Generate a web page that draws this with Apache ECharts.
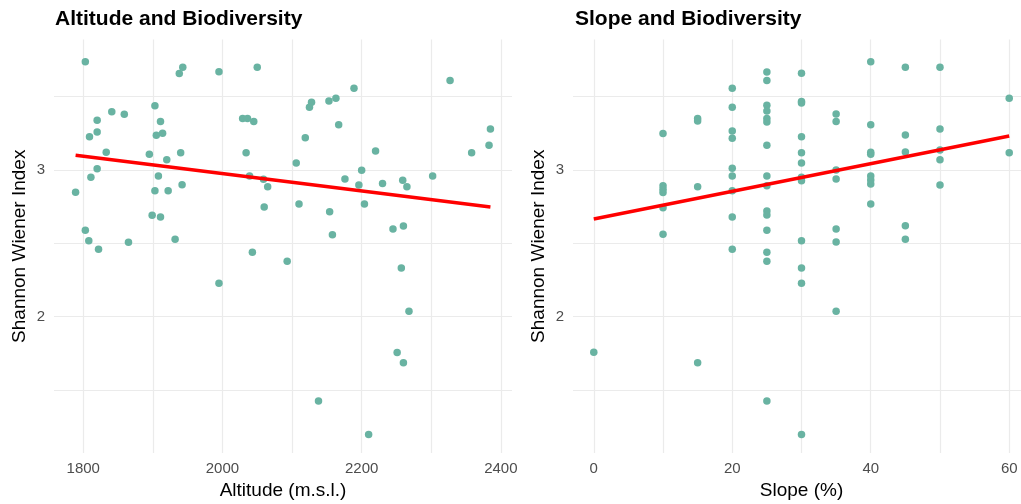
<!DOCTYPE html>
<html>
<head>
<meta charset="utf-8">
<script src="https://cdn.jsdelivr.net/npm/echarts@6/dist/echarts.min.js"></script>
<style>
  html, body { margin: 0; padding: 0; background: #fff; }
  #chart { width: 1021px; height: 504px; }
</style>
</head>
<body>
<div id="chart"></div>
<script>
// altitude panel
const altitude = [1803, 1943, 1938, 1995, 2050, 1903, 1841, 1859, 1820, 1911, 2029, 2036, 2045,
  1820, 1809, 1905, 1914, 1833, 1895, 1940, 2034, 1920, 1820, 1811, 1908, 2039, 1789, 1903,
  1922, 1942, 1899, 1911, 1803, 1808, 1865, 1932, 1822, 2043, 2327, 2189, 2128, 2125, 2153,
  2163, 2167, 2119, 2220, 2358, 2383, 2385, 2106, 2200, 2059, 2065, 2176, 2196, 2230, 2259,
  2265, 2302, 2060, 2110, 2154, 2204, 2158, 2245, 2260, 2093, 2257, 1995, 2268, 2251, 2260,
  2138, 2210];
const shannonAlt = [3.738, 3.70, 3.657, 3.67, 3.70, 3.438, 3.397, 3.38, 3.339, 3.33, 3.35, 3.35, 3.33,
  3.259, 3.227, 3.236, 3.25, 3.12, 3.107, 3.118, 3.118, 3.07, 3.009, 2.95, 2.959, 2.959, 2.848, 2.859,
  2.859, 2.90, 2.691, 2.68, 2.589, 2.518, 2.507, 2.527, 2.459, 2.439, 3.609, 3.557, 3.461, 3.427, 3.47,
  3.489, 3.309, 3.22, 3.13, 3.118, 3.168, 3.28, 3.048, 2.998, 2.937, 2.886, 2.939, 2.898, 2.907, 2.93,
  2.886, 2.959, 2.748, 2.768, 2.716, 2.768, 2.559, 2.598, 2.618, 2.378, 2.332, 2.228, 2.037, 1.755, 1.686,
  1.425, 1.196];
const altFitX = [1789, 2385];
const altFitY = [3.10, 2.748];

// slope panel
const slope = [0,
  10, 10, 10, 10, 10, 10,
  15, 15, 15, 15,
  20, 20, 20, 20, 20, 20, 20, 20, 20,
  25, 25, 25, 25, 25, 25, 25, 25, 25, 25, 25, 25, 25, 25, 25,
  30, 30, 30, 30, 30, 30, 30, 30, 30, 30, 30, 30,
  35, 35, 35, 35, 35, 35, 35,
  40, 40, 40, 40, 40, 40, 40, 40,
  45, 45, 45, 45, 45,
  50, 50, 50, 50, 50,
  60, 60];
const shannonSlope = [1.757,
  3.248, 2.893, 2.868, 2.846, 2.743, 2.562,
  3.35, 3.334, 2.886, 1.686,
  3.557, 3.427, 3.266, 3.216, 3.011, 2.959, 2.859, 2.68, 2.459,
  3.668, 3.609, 3.441, 3.402, 3.35, 3.327, 3.168, 2.959, 2.893, 2.72, 2.693, 2.589, 2.439, 2.378, 1.425,
  3.659, 3.466, 3.457, 3.227, 3.118, 3.048, 2.95, 2.927, 2.518, 2.332, 2.228, 1.196,
  3.382, 3.33, 3.0, 2.939, 2.598, 2.509, 2.037,
  3.738, 3.309, 3.12, 3.107, 2.959, 2.932, 2.905, 2.768,
  3.70, 3.239, 3.123, 2.62, 2.527,
  3.70, 3.28, 3.136, 3.07, 2.898,
  3.489, 3.118];
const slopeFitX = [0, 60];
const slopeFitY = [2.666, 3.232];

const FONT = '"Liberation Sans", Arial, Helvetica, sans-serif';
const POINT = '#69b3a2';
const GRID = '#ebebeb';

const zip = (a, b) => a.map((v, i) => [v, b[i]]);

function xAxisFor(idx, name, min, max, step, labelStep) {
  return {
    type: 'value', gridIndex: idx, name: name, nameLocation: 'middle', nameGap: 25,
    nameTextStyle: { fontFamily: FONT, fontSize: 19, color: '#000' },
    min: min, max: max, minInterval: step, maxInterval: step,
    axisLine: { show: false }, axisTick: { show: false },
    axisLabel: {
      fontFamily: FONT, fontSize: 15, color: '#4d4d4d', margin: 8,
      formatter: v => (Math.abs(v % labelStep) < 1e-6 ? String(v) : '')
    },
    splitLine: { show: true, showMinLine: false, showMaxLine: false, lineStyle: { color: GRID, width: 1.2 } }
  };
}

function yAxisFor(idx) {
  return {
    type: 'value', gridIndex: idx, name: 'Shannon Wiener Index', nameLocation: 'middle', nameGap: 25,
    nameTextStyle: { fontFamily: FONT, fontSize: 19, color: '#000' },
    min: 1.07, max: 3.89, minInterval: 0.5, maxInterval: 0.5,
    axisLine: { show: false }, axisTick: { show: false },
    axisLabel: {
      fontFamily: FONT, fontSize: 15, color: '#4d4d4d', margin: 9,
      formatter: v => (Math.abs(v % 1) < 1e-6 ? String(v) : '')
    },
    splitLine: { show: true, showMinLine: false, showMaxLine: false, lineStyle: { color: GRID, width: 1.2 } }
  };
}

const myChart = echarts.init(document.getElementById('chart'));
myChart.setOption({
  animation: false,
  backgroundColor: '#fff',
  title: [
    { text: 'Altitude and Biodiversity', left: 55, top: 8.5, padding: 0,
      textStyle: { fontFamily: FONT, fontSize: 21, fontWeight: 'bold', color: '#000' } },
    { text: 'Slope and Biodiversity', left: 575, top: 8.5, padding: 0,
      textStyle: { fontFamily: FONT, fontSize: 21, fontWeight: 'bold', color: '#000' } }
  ],
  grid: [
    { left: 54, width: 458, top: 39.4, bottom: 50.9, outerBoundsMode: 'none' },
    // right panel is cut off by the image edge in the original
    { left: 573, width: 457, top: 39.4, bottom: 50.9, outerBoundsMode: 'none' }
  ],
  xAxis: [
    xAxisFor(0, 'Altitude (m.s.l.)', 1758, 2416, 100, 200),
    xAxisFor(1, 'Slope (%)', -3, 63, 10, 20)
  ],
  yAxis: [yAxisFor(0), yAxisFor(1)],
  series: [
    { type: 'scatter', xAxisIndex: 0, yAxisIndex: 0, data: zip(altitude, shannonAlt),
      symbolSize: 7.5, itemStyle: { color: POINT, opacity: 1 } },
    { type: 'line', xAxisIndex: 0, yAxisIndex: 0, data: zip(altFitX, altFitY),
      symbol: 'none', lineStyle: { color: '#ff0000', width: 3.5 }, z: 3 },
    { type: 'scatter', xAxisIndex: 1, yAxisIndex: 1, data: zip(slope, shannonSlope),
      symbolSize: 7.5, itemStyle: { color: POINT, opacity: 1 } },
    { type: 'line', xAxisIndex: 1, yAxisIndex: 1, data: zip(slopeFitX, slopeFitY),
      symbol: 'none', lineStyle: { color: '#ff0000', width: 3.5 }, z: 3 }
  ]
});
</script>
</body>
</html>
